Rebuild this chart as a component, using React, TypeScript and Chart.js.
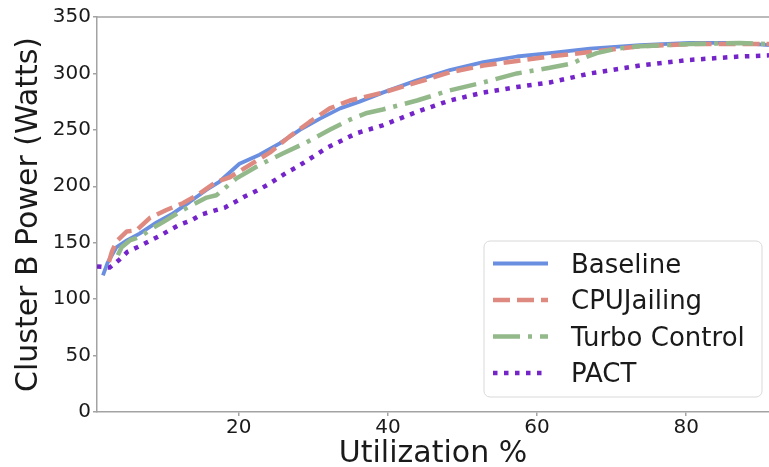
import React, { useEffect, useRef } from "react";
import { Chart, registerables } from "chart.js";

Chart.register(...registerables);

const xTicks = [20, 40, 60, 80];
const yTicks = [0, 50, 100, 150, 200, 250, 300, 350];
const seriesNames = ["Baseline", "CPUJailing", "Turbo Control", "PACT"];

const baselineX = [1.8, 2.4, 3.6, 5, 6.7, 9, 11.2, 13.4, 15.7, 17.4, 20.1, 22.8, 25.5, 28.2, 30.9, 33.6, 36.2, 39.3, 43.9, 48.3, 52.8, 57.3, 61.7, 67.1, 73.8, 80.5, 87.2, 91.1];
const baselineY = [121, 132, 146, 152, 158, 168, 176, 186, 197, 204, 220, 228, 238, 250, 260, 269, 275, 283, 294, 303, 310, 315, 318, 322, 325, 327, 327, 325];

const cpuJailingX = [2.6, 3, 3.6, 5, 6.3, 8.1, 10.3, 12.5, 14.4, 17, 18.8, 21.5, 24.2, 26.8, 29.5, 32.2, 34.9, 39.3, 43.9, 48.3, 52.8, 57.3, 61.7, 67.1, 73.8, 80.5, 87.2, 91.1];
const cpuJailingY = [133, 142, 151, 160, 161, 172, 179, 185, 192, 204, 208, 219, 230, 244, 257, 269, 276, 283, 292, 301, 307, 311, 315, 319, 324, 326, 326, 326];

const turboX = [3.8, 4.3, 5.4, 6.7, 8.7, 9.8, 12.5, 15.7, 17, 19.7, 22.8, 25.9, 29.1, 32.2, 34.9, 37.2, 39.3, 43.9, 48.3, 52.8, 57.3, 61.7, 64.8, 66, 68, 70.7, 73.8, 80.5, 87.2, 91.1];
const turboY = [139, 146, 152, 155, 164, 168, 179, 190, 192, 207, 219, 229, 239, 250, 259, 265, 268, 276, 285, 292, 300, 305, 309, 313, 318, 322, 324, 326, 327, 326];

const pactX = [1, 2.7, 4, 5.1, 6.4, 7.9, 9.4, 10.7, 12.1, 13.7, 15, 16.5, 18.1, 19.5, 20.8, 22.4, 23.8, 26.4, 27.8, 31.8, 35.8, 39.3, 43.9, 48.3, 52.8, 57.3, 61.7, 67.1, 73.8, 80.5, 87.2, 91.1];
const pactY = [129, 128, 135, 142, 146, 151, 156, 161, 166, 170, 175, 178, 181, 186, 191, 196, 201, 212, 217, 234, 247, 254, 266, 276, 283, 288, 292, 300, 307, 312, 315, 316];

const toPoints = (xs: number[], ys: number[]) => xs.map((x, i) => ({ x, y: ys[i] }));

const AXIS_GRAY = "#a3a3a3";
const TEXT = "#1a1a1a";
const FONT = "'DejaVu Sans', 'Liberation Sans', sans-serif";

const topSpinePlugin = {
  id: "topSpine",
  afterDraw(chart: any) {
    const { ctx, chartArea } = chart;
    ctx.save();
    ctx.strokeStyle = AXIS_GRAY;
    ctx.lineWidth = 1.5;
    ctx.beginPath();
    ctx.moveTo(chartArea.left, chartArea.top);
    ctx.lineTo(chartArea.right, chartArea.top);
    ctx.stroke();
    ctx.restore();
  },
};

const insetLegendPlugin = {
  id: "insetLegend",
  afterDatasetsDraw(chart: any) {
    const { ctx, chartArea } = chart;
    const boxW = 278;
    const boxH = 156;
    const right = chartArea.right - 7;
    const bottom = chartArea.bottom - 15;
    const left = right - boxW;
    const top = bottom - boxH;
    const r = 6;
    ctx.save();
    ctx.beginPath();
    ctx.moveTo(left + r, top);
    ctx.lineTo(right - r, top);
    ctx.arcTo(right, top, right, top + r, r);
    ctx.lineTo(right, bottom - r);
    ctx.arcTo(right, bottom, right - r, bottom, r);
    ctx.lineTo(left + r, bottom);
    ctx.arcTo(left, bottom, left, bottom - r, r);
    ctx.lineTo(left, top + r);
    ctx.arcTo(left, top, left + r, top, r);
    ctx.closePath();
    ctx.fillStyle = "rgba(255,255,255,0.85)";
    ctx.fill();
    ctx.strokeStyle = "#d9d9d9";
    ctx.lineWidth = 1;
    ctx.stroke();
    chart.data.datasets.forEach((ds: any, i: number) => {
      const y = top + 22.5 + i * 36.5;
      ctx.beginPath();
      ctx.setLineDash(ds.borderDash || []);
      ctx.lineDashOffset = 0;
      ctx.lineCap = "butt";
      ctx.lineWidth = ds.borderWidth;
      ctx.strokeStyle = ds.borderColor;
      ctx.moveTo(left + 9, y);
      ctx.lineTo(left + 64, y);
      ctx.stroke();
      ctx.setLineDash([]);
      ctx.fillStyle = TEXT;
      ctx.font = `26px ${FONT}`;
      ctx.textAlign = "left";
      ctx.textBaseline = "alphabetic";
      ctx.fillText(ds.label, left + 87, y + 9);
    });
    ctx.restore();
  },
};

export default function App() {
  const canvasRef = useRef<HTMLCanvasElement | null>(null);

  useEffect(() => {
    if (!canvasRef.current) return;
    const common = { pointRadius: 0, tension: 0, fill: false, borderCapStyle: "butt", borderJoinStyle: "round" };
    const chart = new Chart(canvasRef.current, {
      type: "line",
      data: {
        datasets: [
          { ...common, label: seriesNames[0], data: toPoints(baselineX, baselineY), borderColor: "#6a8ee0", borderWidth: 3.8, order: 4 },
          { ...common, label: seriesNames[1], data: toPoints(cpuJailingX, cpuJailingY), borderColor: "#df8a80", borderWidth: 4.5, borderDash: [17, 7], order: 3 },
          { ...common, label: seriesNames[2], data: toPoints(turboX, turboY), borderColor: "#93b98b", borderWidth: 4.5, borderDash: [27, 8, 4, 8], order: 2 },
          { ...common, label: seriesNames[3], data: toPoints(pactX, pactY), borderColor: "#7424c8", borderWidth: 4.5, borderDash: [4.5, 6.5], order: 1 },
        ] as any,
      },
      options: {
        animation: false,
        responsive: true,
        maintainAspectRatio: false,
        layout: { padding: { top: 17, right: 0, bottom: 0, left: 0 } },
        plugins: { legend: { display: false }, tooltip: { enabled: false } },
        scales: {
          x: {
            type: "linear",
            min: 1,
            max: 91.1,
            afterBuildTicks: (s: any) => { s.ticks = xTicks.map((v) => ({ value: v })); },
            afterFit: (s: any) => { s.height = 55; },
            ticks: { font: { family: FONT, size: 20 }, color: TEXT, padding: 0, maxRotation: 0 },
            grid: { display: true, drawOnChartArea: false, drawTicks: true, tickLength: 4, color: AXIS_GRAY, lineWidth: 1.5 },
            border: { display: true, color: AXIS_GRAY, width: 1.5 },
            title: { display: true, text: "Utilization %", color: TEXT, font: { family: FONT, size: 30, lineHeight: 0.83 }, padding: 0 },
          },
          y: {
            type: "linear",
            min: 0,
            max: 350,
            afterBuildTicks: (s: any) => { s.ticks = yTicks.map((v) => ({ value: v })); },
            afterFit: (s: any) => { s.width = 97; },
            ticks: { font: { family: FONT, size: 20 }, color: TEXT, padding: 2 },
            grid: { display: true, drawOnChartArea: false, drawTicks: true, tickLength: 4, color: AXIS_GRAY, lineWidth: 1.5 },
            border: { display: true, color: AXIS_GRAY, width: 1.5 },
            title: { display: true, text: "Cluster B Power (Watts)", color: TEXT, font: { family: FONT, size: 30 }, padding: { top: 11.5, bottom: 0 } },
          },
        },
      } as any,
      plugins: [topSpinePlugin, insetLegendPlugin],
    });
    return () => chart.destroy();
  }, []);

  return (
    <div style={{ position: "absolute", left: 0, top: 0, width: 769, height: 467, background: "#fff" }}>
      <canvas ref={canvasRef} />
    </div>
  );
}
